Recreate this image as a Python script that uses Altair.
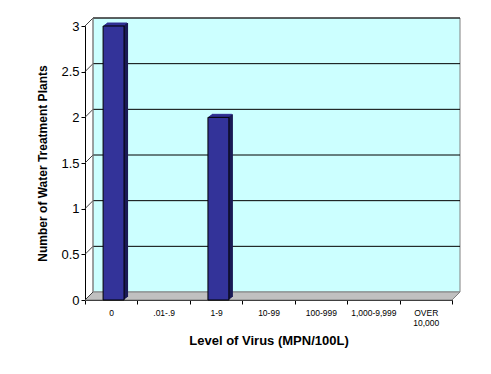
import json
import altair as alt
import pandas as pd

# ---- data ----
categories = ["0", ".01-.9", "1-9", "10-99", "100-999", "1,000-9,999", "OVER 10,000"]
plants = [3, 0, 2, 0, 0, 0, 0]
y_ticks = [0, 0.5, 1, 1.5, 2, 2.5, 3]

# ---- style ----
W, H = 367, 274
DEPTH = 8          # wall depth in px
BDX, BDY = 4, 3    # bar depth in px
NCAT = len(categories)
YMAX = 3
FONT = "Liberation Sans"
WALL = "#CCFFFF"
FLOOR = "#C0C0C0"
BAR = "#333399"
BAR_DARK = "#1A1A55"

xs = alt.Scale(domain=[0, NCAT], nice=False, zero=False)
ys = alt.Scale(domain=[0, YMAX], nice=False)

label_list = [c.split(" ") if c.startswith("OVER") else c for c in categories] + [""]
x_axis = alt.Axis(
    values=list(range(NCAT + 1)),
    labelExpr=json.dumps(label_list) + "[datum.value]",
    labelOffset=W / NCAT / 2,
    grid=False, ticks=True, tickSize=4, tickColor="black",
    domainColor="black", labelFontSize=8.5, labelPadding=4, labelAngle=0,
    labelFlush=False, labelOverlap=False, labelColor="black", labelFont=FONT,
    labelLineHeight=10, labelBaseline="top",
    title="Level of Virus (MPN/100L)", titleFont=FONT, titleFontSize=13,
    titleFontWeight="bold", titleColor="black", titlePadding=8,
)
y_axis = alt.Axis(
    values=y_ticks, format="~g", grid=False, ticks=True, tickSize=4,
    tickColor="black", domainColor="black", labelFontSize=13, labelPadding=2,
    labelColor="black", labelFont=FONT,
    title="Number of Water Treatment Plants", titleFont=FONT, titleFontSize=12,
    titleFontWeight="bold", titleColor="black", titlePadding=11,
)


def X(f):
    return alt.X(f, type="quantitative", scale=xs, axis=x_axis)


def Y(f):
    return alt.Y(f, type="quantitative", scale=ys, axis=y_axis)


# wall
wall_df = pd.DataFrame({"x0": [0], "x1": [NCAT], "y0": [0], "y1": [YMAX]})
wall = alt.Chart(wall_df).mark_rect(
    fill=WALL, stroke="#808080", strokeWidth=1,
    xOffset=DEPTH, x2Offset=DEPTH, yOffset=-DEPTH, y2Offset=-DEPTH,
).encode(x=X("x0"), x2="x1", y=Y("y0"), y2="y1")

# floor (parallelogram)
dx = DEPTH * NCAT / W
dy = DEPTH * YMAX / H
floor_df = pd.DataFrame({"fy": [0, dy], "fx0": [0, dx], "fx1": [NCAT, NCAT + dx]})
floor = alt.Chart(floor_df).mark_area(
    orient="horizontal", fill=FLOOR, stroke="#808080", strokeWidth=1
).encode(y=Y("fy"), x=X("fx0"), x2="fx1")

# gridlines on the back wall
grid_df = pd.DataFrame({"g": y_ticks[1:], "gx0": 0, "gx1": NCAT})
grid = alt.Chart(grid_df).mark_rule(
    color="black", strokeWidth=1,
    xOffset=DEPTH, x2Offset=DEPTH, yOffset=-DEPTH, y2Offset=-DEPTH,
).encode(x=X("gx0"), x2="gx1", y=Y("g"), y2="g")

# connectors from axis to wall
conn_df = pd.DataFrame({"g": y_ticks, "cx": 0})
conn = alt.Chart(conn_df).mark_rule(
    color="#404040", strokeWidth=1, x2Offset=DEPTH, y2Offset=-DEPTH
).encode(x=X("cx"), x2="cx", y=Y("g"), y2="g")

# left edge of wall
edge_df = pd.DataFrame({"ex": [0], "ey0": [0], "ey1": [YMAX]})
edge = alt.Chart(edge_df).mark_rule(
    color="#808080", strokeWidth=1,
    xOffset=DEPTH, x2Offset=DEPTH, yOffset=-DEPTH, y2Offset=-DEPTH,
).encode(x=X("ex"), x2="ex", y=Y("ey0"), y2="ey1")

# bars
bar_df = pd.DataFrame({"cat": categories, "v": plants, "i": range(NCAT)})
bar_df = bar_df[bar_df["v"] > 0].copy()
bar_df["b0"] = bar_df["i"] + 0.345
bar_df["b1"] = bar_df["i"] + 0.745
bar_df["z"] = 0

layers = [wall, floor, grid, conn, edge]

# extruded side (dark) built from thin offset slices
for k in range(1, BDX + 1):
    oy = -k * BDY / BDX
    layers.append(
        alt.Chart(bar_df).mark_rect(
            fill=BAR_DARK, xOffset=k, x2Offset=k, yOffset=oy, y2Offset=oy,
        ).encode(x=X("b0"), x2="b1", y=Y("z"), y2="v")
    )
# top face (blue)
for k in range(1, BDX + 1):
    oy = -k * BDY / BDX
    layers.append(
        alt.Chart(bar_df).mark_rule(
            color=BAR, strokeWidth=1, xOffset=k, x2Offset=k - 1,
            yOffset=oy, y2Offset=oy,
        ).encode(x=X("b0"), x2="b1", y=Y("v"), y2="v")
    )

bar_front = alt.Chart(bar_df).mark_rect(
    fill=BAR, stroke="black", strokeWidth=1,
).encode(x=X("b0"), x2="b1", y=Y("z"), y2="v")
layers.append(bar_front)

chart = alt.layer(*layers).properties(
    width=W, height=H,
    autosize=alt.AutoSizeParams(type="none"),
    padding={"left": 77, "top": 18, "right": 25, "bottom": 60},
    background="white",
).configure_view(stroke=None)

chart.save("out.html", embed_options={"renderer": "svg", "actions": False})
